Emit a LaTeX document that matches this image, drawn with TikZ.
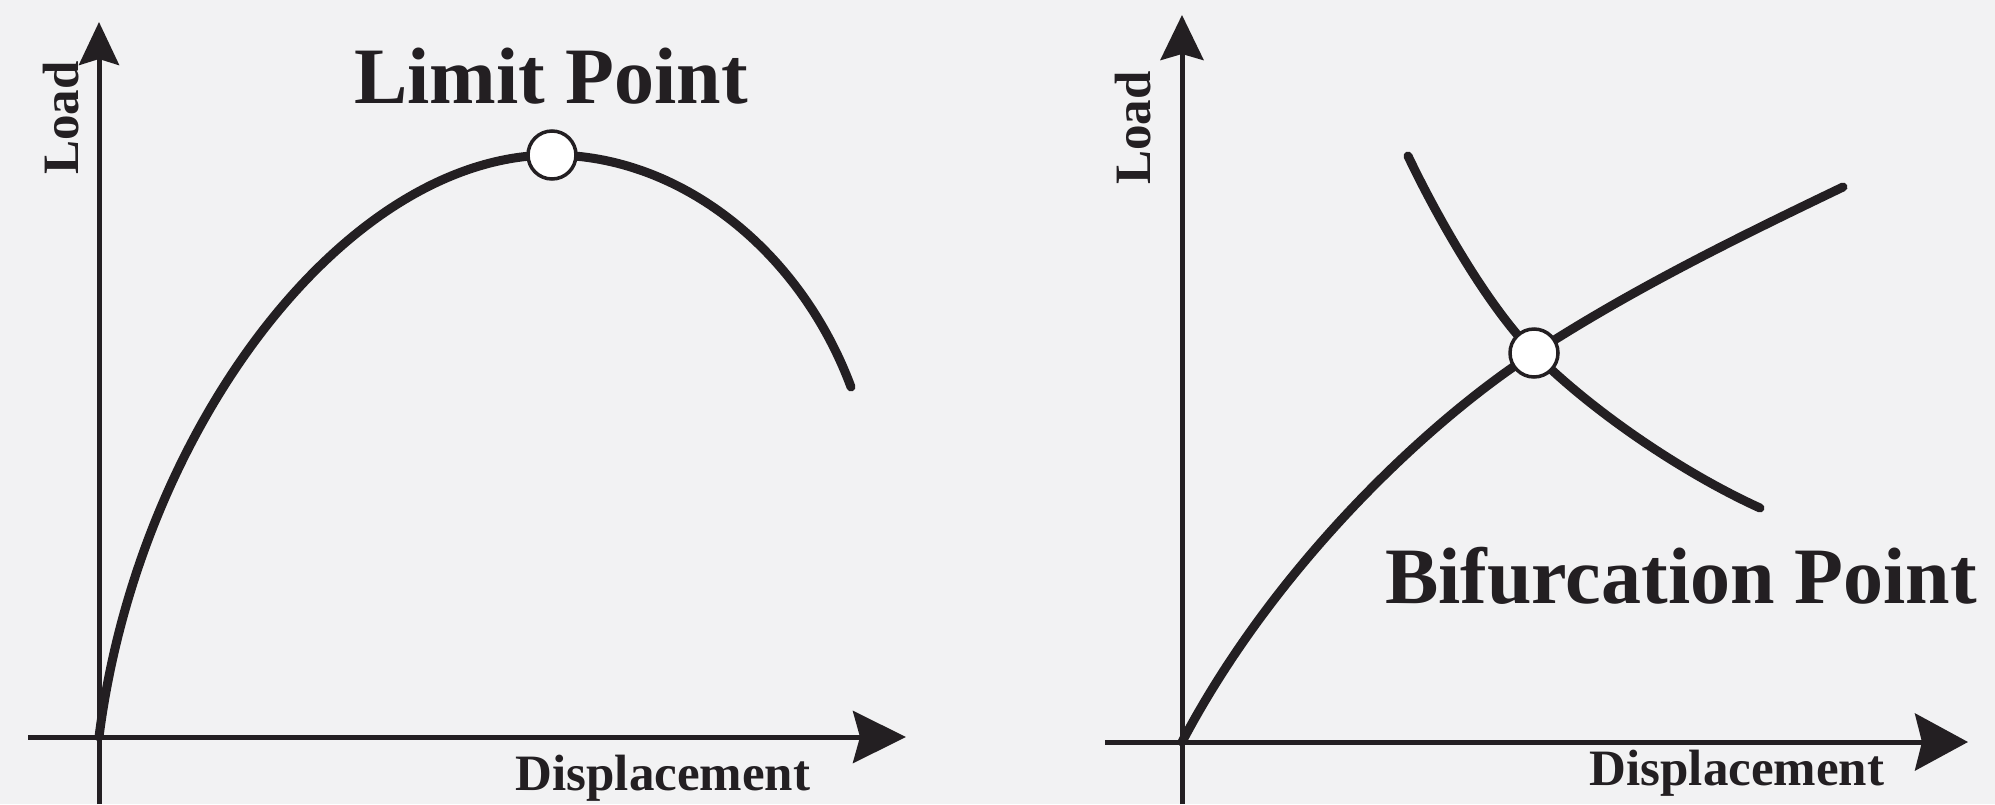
\documentclass[tikz,border=0pt]{standalone}
\usepackage{fontspec}
\setmainfont{Liberation Serif}
\usetikzlibrary{arrows.meta}
\definecolor{bg}{RGB}{242,242,243}
\definecolor{ink}{RGB}{35,31,34}
\begin{document}
\begin{tikzpicture}[x=1pt,y=-1pt,
  axis/.style={draw=ink,line width=5pt},
  curve/.style={draw=ink,line width=9pt,line cap=round},
  critpt/.style={circle,draw=ink,fill=white,line width=3.5pt,minimum size=48pt,inner sep=0pt},
  bigtext/.style={font=\bfseries\fontsize{80}{90}\selectfont,text=ink,inner sep=0pt,anchor=base},
  smalltext/.style={font=\bfseries\fontsize{51}{60}\selectfont,text=ink,inner sep=0pt,anchor=base}]
\fill[bg] (0,0) rectangle (1995,804);
\useasboundingbox (0,0) rectangle (1995,804);
% ---------- left panel ----------
\coordinate (o1) at (99,737);
\coordinate (y1a) at (99,804);
\coordinate (y1) at (99,22);
\coordinate (x1a) at (28,737);
\coordinate (x1) at (906,737);
\coordinate (lpc) at (552,155);
\coordinate (e1) at (851,387);
\draw[axis,-{Stealth[length=43pt,width=40pt,inset=6pt]}] (y1a) -- (y1);
\draw[axis,-{Stealth[length=53pt,width=52pt,inset=7pt]}] (x1a) -- (x1);
\draw[curve] (o1) .. controls (138,430) and (345,155) .. (lpc)
                  .. controls (680,155) and (800,250) .. (e1);
\node[critpt] (lp) at (lpc) {};
\node[bigtext] (lt) at (551,103) {Limit Point};
\node[smalltext] (d1) at (663,790) {Displacement};
\node[smalltext,rotate=90] (l1) at (78,118) {Load};
% ---------- right panel ----------
\coordinate (o2) at (1182,742);
\coordinate (y2a) at (1182,804);
\coordinate (y2) at (1182,15);
\coordinate (x2a) at (1105,742);
\coordinate (x2) at (1968,742);
\coordinate (bpc) at (1534,353);
\coordinate (p2) at (1843,187);
\coordinate (s1) at (1408,156);
\coordinate (s2) at (1760,508);
\draw[axis,-{Stealth[length=45pt,width=43pt,inset=6pt]}] (y2a) -- (y2);
\draw[axis,-{Stealth[length=53pt,width=57pt,inset=7pt]}] (x2a) -- (x2);
\draw[curve] (o2) .. controls (1275,565) and (1430,420) .. (bpc)
                  .. controls (1634,288) and (1743,235) .. (p2);
\draw[curve] (s1) .. controls (1438,219) and (1489,308) .. (bpc)
                  .. controls (1594,413) and (1685,474) .. (s2);
\node[critpt] (bp) at (bpc) {};
\node[bigtext] (bt) at (1681,603) {Bifurcation Point};
\node[smalltext] (d2) at (1737,785) {Displacement};
\node[smalltext,rotate=90] (l2) at (1150,128) {Load};
\end{tikzpicture}
\end{document}
